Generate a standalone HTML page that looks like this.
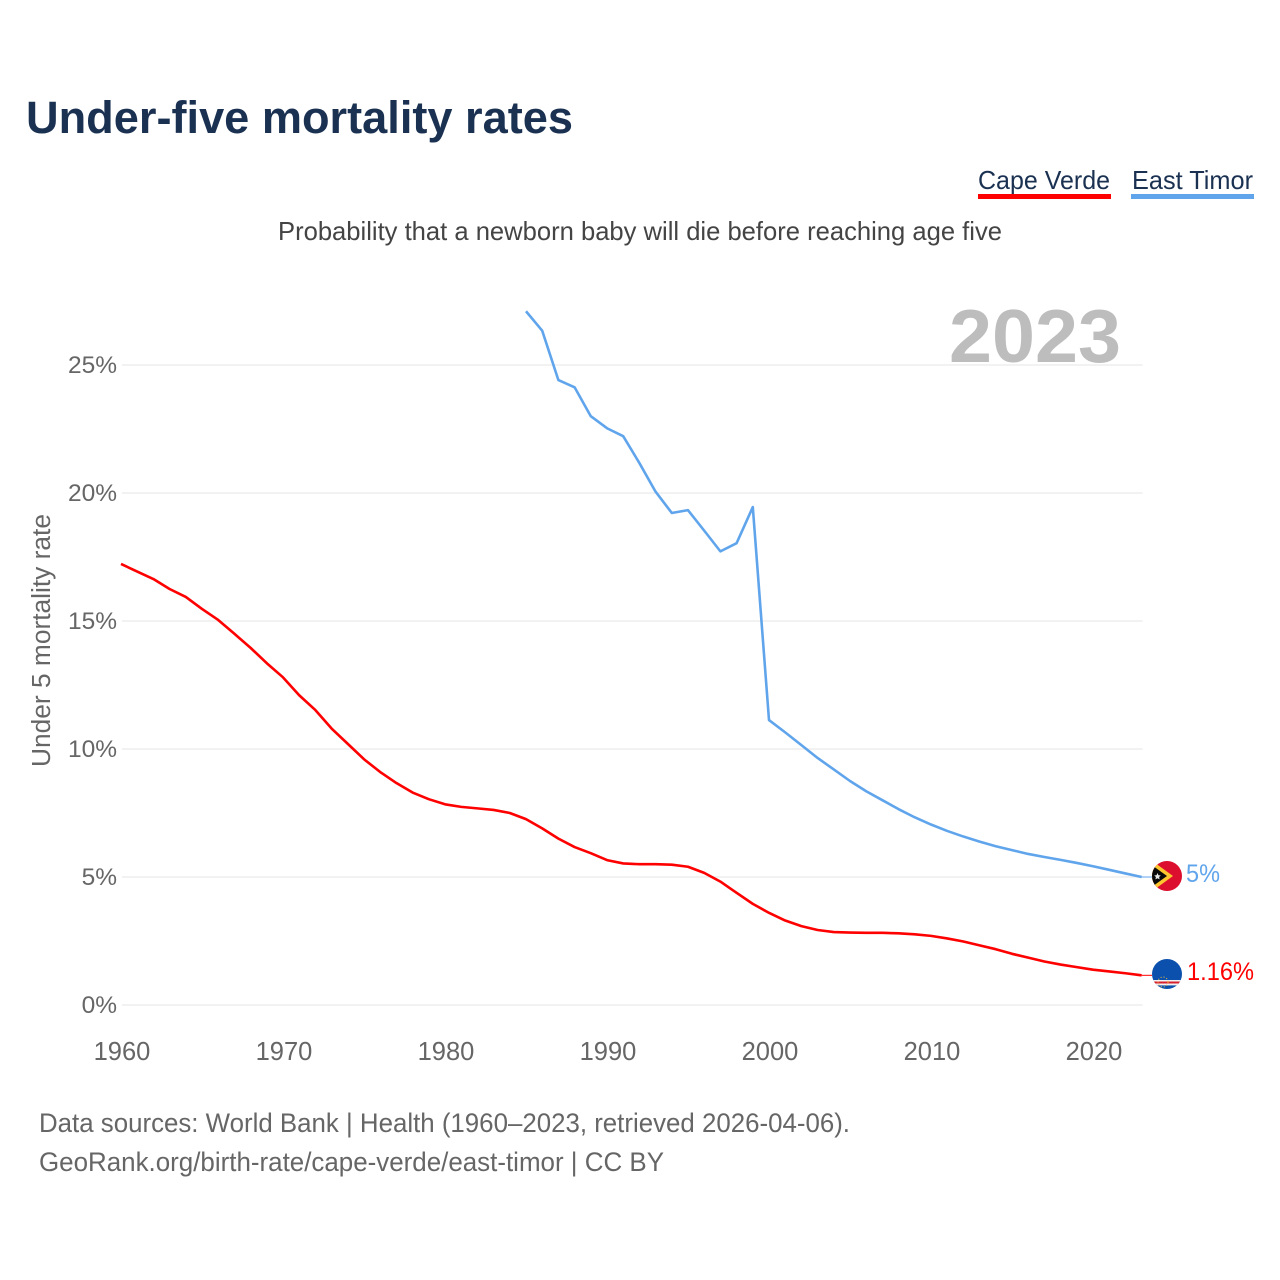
<!DOCTYPE html>
<html lang="en">
<head>
<meta charset="utf-8">
<title>Under-five mortality rates</title>
<style>
html,body{margin:0;padding:0;background:#fff;}
svg{display:block;font-family:"Liberation Sans",sans-serif;}
</style>
</head>
<body>
<svg id="chart" xmlns="http://www.w3.org/2000/svg" width="1280" height="1280" viewBox="0 0 1280 1280">
  <defs>
    <clipPath id="clip-tl"><circle cx="1167" cy="876" r="15"/></clipPath>
    <clipPath id="clip-cv"><circle cx="1167" cy="974" r="15"/></clipPath>
  </defs>
  <rect width="1280" height="1280" fill="#fff"/>
  <text x="26" y="133" font-size="45" font-weight="bold" fill="#1a3152" textLength="547" lengthAdjust="spacingAndGlyphs">Under-five mortality rates</text>

  <g>
    <text x="978" y="189" font-size="26" fill="#1a3152" textLength="132" lengthAdjust="spacingAndGlyphs">Cape Verde</text>
    <rect x="978" y="194" width="133" height="5" fill="#ff0000"/>
  </g>
  <g>
    <text x="1132" y="189" font-size="26" fill="#1a3152" textLength="121" lengthAdjust="spacingAndGlyphs">East Timor</text>
    <rect x="1131" y="194" width="123" height="5" fill="#60a5ec"/>
  </g>

  <text x="278" y="240" font-size="26" fill="#444" textLength="724" lengthAdjust="spacingAndGlyphs">Probability that a newborn baby will die before reaching age five</text>

  <g id="grid"></g>
  <text x="949" y="362" font-size="75" font-weight="bold" fill="#bdbdbd" textLength="172" lengthAdjust="spacingAndGlyphs">2023</text>
  <g id="yticks"></g>
  <g id="xticks"></g>
  <text transform="translate(50,767) rotate(-90)" font-size="25.5" fill="#666" textLength="253" lengthAdjust="spacingAndGlyphs">Under 5 mortality rate</text>
  <g id="series"></g>

  <g clip-path="url(#clip-tl)">
    <rect x="1150" y="859" width="34" height="34" fill="#dc0f2e"/>
    <polygon points="1151,860 1173,876 1151,892" fill="#fdc62f"/>
    <polygon points="1151,864.5 1167,876 1151,887.5" fill="#0a0a0a"/>
    <polygon points="1157.5,873 1158.5,875.2 1160.8,875.4 1159.1,877 1159.6,879.4 1157.5,878.2 1155.4,879.4 1155.9,877 1154.2,875.4 1156.5,875.2" fill="#e8e8e8"/>
  </g>
  <g clip-path="url(#clip-cv)">
    <rect x="1150" y="957" width="34" height="34" fill="#0b50ad"/>
    <rect x="1150" y="980" width="34" height="5.4" fill="#f2f2f2"/>
    <rect x="1150" y="981.5" width="34" height="2" fill="#d8202f"/>
    <circle cx="1163" cy="982" r="5" fill="none" stroke="#f5c43a" stroke-width="1" stroke-dasharray="1 2"/>
  </g>

  <text x="1186" y="882" font-size="25" fill="#60a5ec" textLength="34" lengthAdjust="spacingAndGlyphs">5%</text>
  <text x="1187" y="980" font-size="25" fill="#ff0000" textLength="67" lengthAdjust="spacingAndGlyphs">1.16%</text>

  <text x="39" y="1132" font-size="27" fill="#666" textLength="811" lengthAdjust="spacingAndGlyphs">Data sources: World Bank | Health (1960–2023, retrieved 2026-04-06).</text>
  <text x="39" y="1171" font-size="27" fill="#666" textLength="625" lengthAdjust="spacingAndGlyphs">GeoRank.org/birth-rate/cape-verde/east-timor | CC BY</text>
</svg>
<script>
const capeVerdeStartYear = 1960;
const capeVerdeValues = [17.23,16.93,16.64,16.25,15.94,15.47,15.04,14.5,13.95,13.35,12.8,12.1,11.52,10.8,10.2,9.6,9.1,8.67,8.3,8.04,7.84,7.74,7.68,7.62,7.5,7.26,6.9,6.5,6.17,5.93,5.66,5.53,5.5,5.5,5.48,5.4,5.16,4.82,4.38,3.95,3.6,3.3,3.08,2.93,2.85,2.83,2.82,2.82,2.8,2.76,2.7,2.6,2.48,2.33,2.18,2.0,1.85,1.7,1.58,1.48,1.38,1.31,1.24,1.16];
const eastTimorStartYear = 1985;
const eastTimorValues = [27.1,26.34,24.41,24.13,23.0,22.53,22.22,21.17,20.05,19.22,19.33,18.53,17.72,18.04,19.45,11.13,10.65,10.15,9.65,9.2,8.75,8.35,8.0,7.65,7.33,7.05,6.8,6.58,6.38,6.2,6.05,5.9,5.78,5.67,5.55,5.42,5.28,5.14,5.0];
const yTickValues = [0,5,10,15,20,25];
const xTickYears = [1960,1970,1980,1990,2000,2010,2020];

const NS = 'http://www.w3.org/2000/svg';
function xScale(year){ return 121 + (year - 1960) * 16.2; }
function yScale(pct){ return 1005 - pct * 25.6; }

const grid = document.getElementById('grid');
const yticks = document.getElementById('yticks');
const xticks = document.getElementById('xticks');
const series = document.getElementById('series');

yTickValues.forEach(function(v){
  const line = document.createElementNS(NS,'line');
  
  
  line.setAttribute('x1', xScale(1960) + 1);
  line.setAttribute('x2', xScale(2023) + 1);
  line.setAttribute('y1', yScale(v));
  line.setAttribute('y2', yScale(v));
  line.setAttribute('stroke', '#eeeeee');
  line.setAttribute('stroke-width', '1.6');
  grid.appendChild(line);

  const label = document.createElementNS(NS,'text');
  
  
  label.setAttribute('x', 117);
  label.setAttribute('y', yScale(v) + 8);
  label.setAttribute('text-anchor', 'end');
  label.setAttribute('font-size', '24.5');
  label.setAttribute('fill', '#666');
  label.textContent = v + '%';
  yticks.appendChild(label);
});

xTickYears.forEach(function(year){
  const label = document.createElementNS(NS,'text');
  
  
  label.setAttribute('x', xScale(year) + 1);
  label.setAttribute('y', 1060);
  label.setAttribute('text-anchor', 'middle');
  label.setAttribute('font-size', '25.5');
  label.setAttribute('fill', '#666');
  label.textContent = String(year);
  xticks.appendChild(label);
});

function seriesPoints(startYear, values){
  return values.map(function(v, i){
    return xScale(startYear + i).toFixed(2) + ',' + yScale(v).toFixed(2);
  }).join(' ');
}

const eastTimorLine = document.createElementNS(NS,'polyline');


eastTimorLine.setAttribute('points', seriesPoints(eastTimorStartYear, eastTimorValues));
eastTimorLine.setAttribute('fill', 'none');
eastTimorLine.setAttribute('stroke', '#60a5ec');
eastTimorLine.setAttribute('stroke-width', '2.6');
eastTimorLine.setAttribute('stroke-linejoin', 'round');
series.appendChild(eastTimorLine);

const capeVerdeLine = document.createElementNS(NS,'polyline');


capeVerdeLine.setAttribute('points', seriesPoints(capeVerdeStartYear, capeVerdeValues));
capeVerdeLine.setAttribute('fill', 'none');
capeVerdeLine.setAttribute('stroke', '#ff0000');
capeVerdeLine.setAttribute('stroke-width', '2.6');
capeVerdeLine.setAttribute('stroke-linejoin', 'round');
series.appendChild(capeVerdeLine);

const eastTimorLeader = document.createElementNS(NS,'line');


eastTimorLeader.setAttribute('x1', xScale(2023));
eastTimorLeader.setAttribute('x2', 1152);
eastTimorLeader.setAttribute('y1', yScale(eastTimorValues[eastTimorValues.length - 1]));
eastTimorLeader.setAttribute('y2', yScale(eastTimorValues[eastTimorValues.length - 1]));
eastTimorLeader.setAttribute('stroke', '#60a5ec');
eastTimorLeader.setAttribute('stroke-width', '1');
series.appendChild(eastTimorLeader);

const capeVerdeLeader = document.createElementNS(NS,'line');


capeVerdeLeader.setAttribute('x1', xScale(2023));
capeVerdeLeader.setAttribute('x2', 1152);
capeVerdeLeader.setAttribute('y1', yScale(capeVerdeValues[capeVerdeValues.length - 1]));
capeVerdeLeader.setAttribute('y2', yScale(capeVerdeValues[capeVerdeValues.length - 1]));
capeVerdeLeader.setAttribute('stroke', '#ff0000');
capeVerdeLeader.setAttribute('stroke-width', '1');
series.appendChild(capeVerdeLeader);
</script>
</body>
</html>
